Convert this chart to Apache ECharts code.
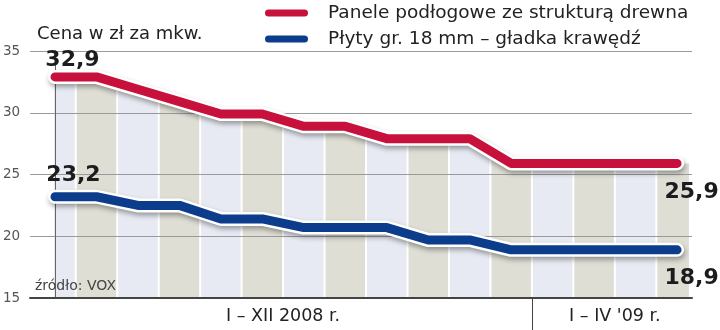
<!DOCTYPE html>
<html>
<head>
<meta charset="utf-8">
<script src="https://cdn.jsdelivr.net/npm/echarts@6/dist/echarts.min.js"></script>
<style>
  html, body { margin: 0; padding: 0; background: #fff; }
  #chart { width: 720px; height: 330px; }
</style>
</head>
<body>
<div id="chart"></div>
<script>
// Monthly prices (zł per m²), January 2008 – April 2009
const months = ['I', 'II', 'III', 'IV', 'V', 'VI', 'VII', 'VIII', 'IX', 'X', 'XI', 'XII', 'I', 'II', 'III', 'IV'];
const panele = [32.9, 32.9, 31.9, 30.9, 29.9, 29.9, 28.9, 28.9, 27.9, 27.9, 27.9, 25.9, 25.9, 25.9, 25.9, 25.9];
const plyty  = [23.2, 23.2, 22.5, 22.5, 21.4, 21.4, 20.7, 20.7, 20.7, 19.7, 19.7, 18.9, 18.9, 18.9, 18.9, 18.9];
const seriesNames = ['Panele podłogowe ze strukturą drewna', 'Płyty gr. 18 mm – gładka krawędź'];
const periods = ['I – XII 2008 r.', 'I – IV \'09 r.'];
const periodMonths = [12, 4];
const yMin = 15, yMax = 35, yStep = 5;

// ---- layout / style ----
const FONT = 'DejaVu Sans';
const RED = '#c8103c';
const BLUE = '#0c3c8c';
const BAND_COLORS = ['#e7eaf2', '#dfded5'];
const X_MIN = -0.603, X_MAX = 15.36;     // axis extent in month units
const BAND_START = -0.05, BAND_END = 15.31;
// end-value label offsets [first, last] in px
const LABEL_OFFSETS = [
  [[17.5, -17], [14.5, 29]],
  [[18.5, -21], [14.5, 28]]
];

const fmt = v => v.toFixed(1).replace('.', ',');

// period centres and the boundary tick between them
const periodCenters = [], periodBounds = [];
let start = 0;
periodMonths.forEach((n, k) => {
  periodCenters.push(start + (n - 1) / 2);
  if (k < periodMonths.length - 1) periodBounds.push(start + n - 0.5);
  start += n;
});

// height of the upper series along x (straight segments between months)
function topAt(x) {
  const n = panele.length - 1;
  if (x <= 0) return panele[0];
  if (x >= n) return panele[n];
  const i = Math.floor(x), t = x - i;
  return panele[i] + (panele[i + 1] - panele[i]) * t;
}

function pointData(values, offsets) {
  return values.map((v, i) => {
    const last = values.length - 1;
    if (i === 0 || i === last) {
      const off = offsets[i === 0 ? 0 : 1];
      return {
        value: [i, v],
        label: {
          show: true, position: 'inside', offset: off,
          formatter: () => fmt(v),
          fontFamily: FONT, fontWeight: 'bold', fontSize: 22, color: '#1c1c1c'
        }
      };
    }
    return [i, v];
  });
}

function halo(values) {
  return {
    type: 'line',
    data: values.map((v, i) => [i, v]),
    symbol: 'none',
    silent: true,
    z: 3,
    lineStyle: {
      color: '#ffffff', width: 14, cap: 'round', join: 'round',
      shadowColor: 'rgba(0,0,0,0.35)', shadowBlur: 5, shadowOffsetX: 1, shadowOffsetY: 3
    },
    emphasis: { disabled: true }
  };
}

function line(name, values, color, offsets) {
  return {
    type: 'line',
    name: name,
    data: pointData(values, offsets),
    symbol: 'circle',
    symbolSize: 0,
    showSymbol: true,
    z: 4,
    itemStyle: { color: color },
    lineStyle: { color: color, width: 9, cap: 'round', join: 'round' },
    emphasis: { disabled: true }
  };
}

const chart = echarts.init(document.getElementById('chart'), null, { renderer: 'canvas' });

chart.setOption({
  animation: false,
  backgroundColor: '#ffffff',
  title: {
    text: 'Cena w zł za mkw.',
    left: 37, top: 25, padding: 0,
    textStyle: { fontFamily: FONT, fontSize: 18, fontWeight: 'normal', color: '#222' }
  },
  legend: {
    data: seriesNames,
    orient: 'vertical',
    left: 265, top: 3,
    padding: 0,
    itemWidth: 43, itemHeight: 7, itemGap: 6,
    icon: 'path://M3.5,0H39.5A3.5,3.5,0,0,1,39.5,7H3.5A3.5,3.5,0,0,1,3.5,0Z',
    selectedMode: false,
    textStyle: { fontFamily: FONT, fontSize: 18.5, color: '#222', lineHeight: 20, padding: [0, 0, 0, 15] }
  },
  graphic: [{
    type: 'text', left: 35, top: 279, z: 10,
    style: { text: 'źródło: VOX', font: '14px "DejaVu Sans"', fill: '#444' }
  }],
  grid: { left: 30, right: 28, top: 51, bottom: 32 },
  xAxis: {
    type: 'value', min: X_MIN, max: X_MAX, z: 1,
    splitLine: { show: false },
    axisLine: { show: true, onZero: false, lineStyle: { color: '#444', width: 2 } },
    axisTick: { show: true, customValues: periodBounds, length: 33, lineStyle: { color: '#444', width: 1 } },
    axisLabel: {
      customValues: periodCenters,
      formatter: v => periods[periodCenters.findIndex(c => Math.abs(c - v) < 1e-6)] || '',
      margin: 9, fontFamily: FONT, fontSize: 17.5, color: '#222'
    }
  },
  yAxis: {
    type: 'value', min: yMin, max: yMax, interval: yStep, z: 1,
    axisLine: { show: true, lineStyle: { color: '#666', width: 1 } },
    axisTick: { show: false },
    splitLine: { show: true, lineStyle: { color: '#9a9a9a', width: 1 } },
    axisLabel: { align: 'left', margin: 27, fontFamily: FONT, fontSize: 13.5, color: '#555' }
  },
  series: [
    {
      // month stripes under the upper line
      type: 'custom',
      silent: true,
      z: 0,
      clip: true,
      data: months.map((m, i) => [i, panele[i]]),
      renderItem: (params, api) => {
        const i = api.value(0);
        const lo = Math.max(i - 0.5, BAND_START);
        const hi = Math.min(i + 0.5, BAND_END);
        const pts = [[lo, yMin], [lo, topAt(lo)], [i, panele[i]], [hi, topAt(hi)], [hi, yMin]]
          .map(p => api.coord(p));
        pts[0][0] += 1; pts[1][0] += 1; pts[3][0] -= 1; pts[4][0] -= 1;
        return { type: 'polygon', shape: { points: pts }, style: { fill: BAND_COLORS[i % 2] } };
      }
    },
    halo(panele),
    halo(plyty),
    line(seriesNames[0], panele, RED, LABEL_OFFSETS[0]),
    line(seriesNames[1], plyty, BLUE, LABEL_OFFSETS[1])
  ]
});
</script>
</body>
</html>
